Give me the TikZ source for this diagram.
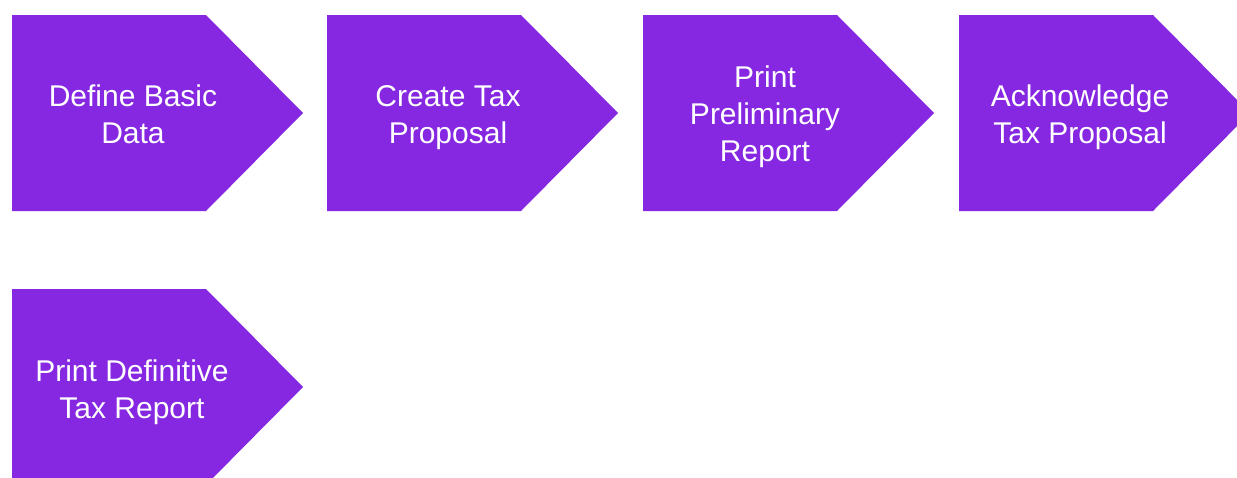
\documentclass[tikz,border=0pt]{standalone}
\usepackage{fontspec}
\setmainfont{Liberation Sans}
\definecolor{stepviolet}{RGB}{134,40,226}
\tikzset{
  chevron/.style={fill=stepviolet, draw=none},
  steptext/.style={text=white, align=center, font=\fontsize{30}{37}\selectfont}
}
\begin{document}
\begin{tikzpicture}[x=1pt,y=-1pt]
        \useasboundingbox (0,0) rectangle (1237,477);
        \clip (0,0) rectangle (1237,477); % last arrows run off the page
        \foreach \x/\y in {12/15,327/15,643/15,959/15,12/289}{
          \fill[chevron] (\x,\y) -- ++(194,0) -- ++(97,98) -- ++(-97,98) -- ++(-194,0) -- cycle;
        } % draws step arrows
        \node[steptext] (basicdata) at (133,114) {Define Basic\\Data};
        \node[steptext] (taxproposal) at (448,118) {Create Tax\\Proposal};
        \node[steptext] (prelimreport) at (765,117) {Print\\Preliminary\\Report};
        \node[steptext] (acknowledge) at (1080,117) {Acknowledge\\Tax Proposal};
        \node[steptext] (definitive) at (132,392) {Print Definitive\\Tax Report};
    \end{tikzpicture}
\end{document}
